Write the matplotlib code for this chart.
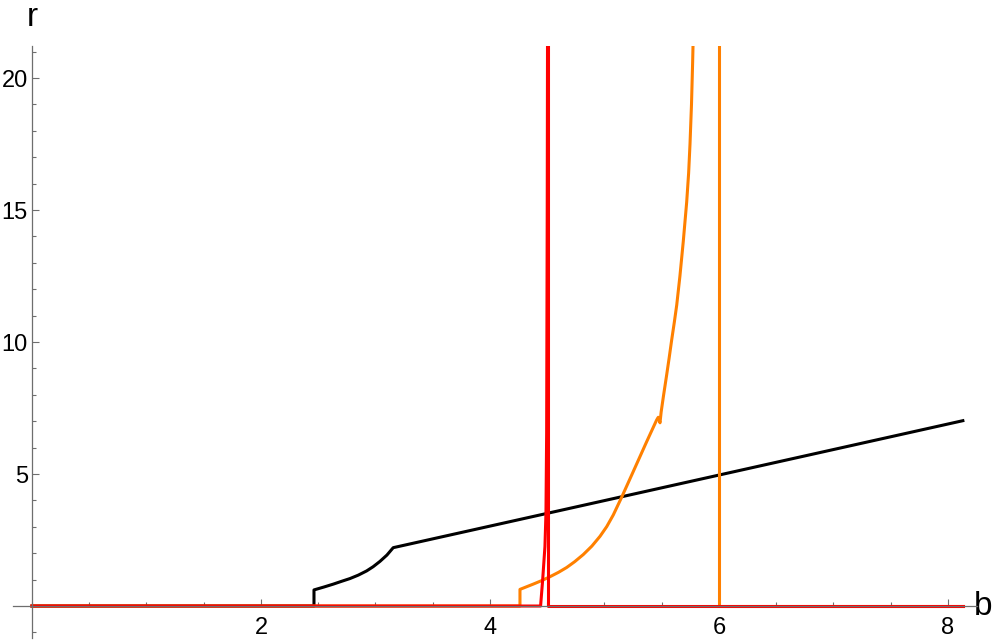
import numpy as np
import matplotlib
matplotlib.use("Agg")
import matplotlib.pyplot as plt
from matplotlib.ticker import MultipleLocator, FixedLocator

plt.rcParams['font.family'] = ['Liberation Sans', 'DejaVu Sans']

# black curve
black_b = [0, 2.463, 2.463, 2.55, 2.632, 2.70, 2.777, 2.85, 2.923, 2.98, 3.039, 3.10, 3.155, 8.13]
black_r = [0, 0, 0.61, 0.72, 0.83, 0.93, 1.04, 1.17, 1.33, 1.49, 1.69, 1.93, 2.21, 7.02]

# orange curve (two pieces, the blow-up near b=5.8 is cut at the top)
orange_b1 = [0, 4.262, 4.262, 4.378, 4.45, 4.524, 4.60, 4.67, 4.74, 4.815, 4.89, 4.961,
             5.02, 5.077, 5.15, 5.20, 5.252, 5.31, 5.368, 5.456, 5.47, 5.485,
             5.495, 5.515, 5.543, 5.565, 5.587, 5.61, 5.631, 5.659, 5.688, 5.718,
             5.735, 5.747, 5.76, 5.77, 5.78]
orange_r1 = [0, 0, 0.63, 0.83, 0.96, 1.11, 1.28, 1.46, 1.68, 1.95, 2.27, 2.64,
             3.01, 3.45, 4.12, 4.60, 5.10, 5.66, 6.22, 7.05, 7.15, 6.94,
             7.35, 7.95, 8.75, 9.4, 10.08, 10.75, 11.4, 12.5, 13.8, 15.3,
             16.4, 17.5, 19.0, 20.6, 22.5]
orange_b2 = [6.0, 6.0, 8.13]
orange_r2 = [22.5, 0, 0]

# red curve (narrow spike at b~4.5)
red_b1 = [0, 4.442, 4.46, 4.48, 4.489, 4.495, 4.500, 4.503]
red_r1 = [0, 0, 0.98, 2.25, 3.52, 6.55, 15.0, 22.5]
red_b2 = [4.509, 4.509, 8.13]
red_r2 = [22.5, 0, 0]

fig = plt.figure(figsize=(9.97, 6.43), dpi=100)
ax = fig.add_axes([0.01254, 0.00824, 0.967, 0.9197])

lw = 2.2
ax.plot(black_b, black_r, color='black', lw=lw, zorder=2)
ax.plot(orange_b1, orange_r1, color='#ff8000', lw=lw, zorder=3)
ax.plot(orange_b2, orange_r2, color='#ff8000', lw=lw, zorder=3)
ax.plot(red_b1, red_r1, color='#ff0000', lw=lw, zorder=4)
ax.plot(red_b2, red_r2, color='#ff0000', lw=lw, zorder=4)

ax.set_xlim(-0.17, 8.25)
ax.set_ylim(-1.2, 21.2)

# axes through the origin, Mathematica style
for side in ['top', 'right']:
    ax.spines[side].set_visible(False)
ax.spines['left'].set_position(('data', 0))
ax.spines['bottom'].set_position(('data', 0))
for side in ['left', 'bottom']:
    ax.spines[side].set_color('#6e6e6e')
    ax.spines[side].set_linewidth(0.9)
    ax.spines[side].set_zorder(5)

ax.xaxis.set_major_locator(FixedLocator([2, 4, 6, 8]))
ax.xaxis.set_minor_locator(MultipleLocator(0.5))
ax.yaxis.set_major_locator(FixedLocator([5, 10, 15, 20]))
ax.yaxis.set_minor_locator(MultipleLocator(1))

ax.tick_params(which='both', direction='in', color='#6e6e6e', width=0.8,
               labelsize=17, labelcolor='black')
ax.tick_params(which='major', length=5)
ax.tick_params(which='minor', length=3)
ax.tick_params(axis='x', which='both', pad=8)
ax.tick_params(axis='y', which='both', pad=3)

ax.text(0.0, 22.3, 'r', fontsize=24, ha='center', va='center', clip_on=False)
ax.text(8.31, 0.0, 'b', fontsize=24, ha='center', va='center', clip_on=False)

plt.savefig('out.png', dpi=100)
